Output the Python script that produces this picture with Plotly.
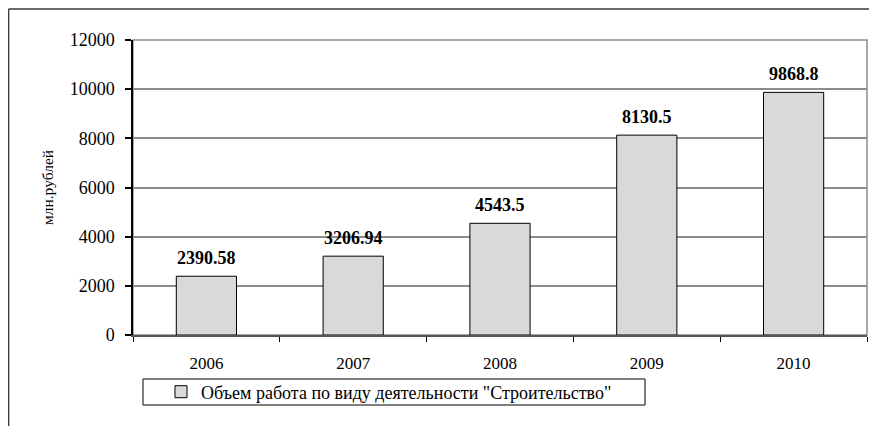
import plotly.graph_objects as go

years = ["2006", "2007", "2008", "2009", "2010"]
values = [2390.58, 3206.94, 4543.5, 8130.5, 9868.8]
value_labels = ["2390.58", "3206.94", "4543.5", "8130.5", "9868.8"]
series_name = 'Объем работа по виду деятельности "Строительство"'
y_title = "млн.рублей"
y_ticks = [0, 2000, 4000, 6000, 8000, 10000, 12000]

FONT = "Liberation Serif"
OFF = 8  # page body margin
WIN_W, WIN_H = 877, 426
W, H = WIN_W - OFF, WIN_H - OFF
# plot area in window pixels: x 133..867, y 40..335
L = 133 - OFF
T = 40 - OFF
R = W - (867 - OFF)
B = H - (335 - OFF)
pw, ph = 867 - 133, 335 - 40

def px(x):
    return (x - 133) / pw

def py(y):
    return (335 - y) / ph

fig = go.Figure()
fig.add_trace(go.Bar(
    x=years, y=values, name=series_name,
    marker=dict(color="#d9d9d9", line=dict(color="#000000", width=1)),
    width=0.41, showlegend=True,
))

for i, (v, lab) in enumerate(zip(values, value_labels)):
    fig.add_annotation(x=i, y=v, text="<b>%s</b>" % lab, showarrow=False,
                       yanchor="bottom", yshift=6,
                       font=dict(family=FONT, size=18, color="#000"))

shapes = [
    dict(type="rect", xref="paper", yref="paper", x0=0, x1=1, y0=0, y1=1,
         line=dict(color="#8c8c8c", width=1.5), layer="below"),
    # outer frame (top & left)
    dict(type="line", xref="paper", yref="paper", x0=px(8.6), x1=px(880), y0=py(9), y1=py(9),
         line=dict(color="#3a3a3a", width=1.5)),
    dict(type="line", xref="paper", yref="paper", x0=px(8.6), x1=px(8.6), y0=py(9), y1=py(430),
         line=dict(color="#3a3a3a", width=1.5)),
    # legend box
    dict(type="rect", xref="paper", yref="paper", x0=px(143), x1=px(645), y0=py(405), y1=py(379),
         line=dict(color="#000", width=1), fillcolor="white", layer="below"),
]

fig.update_layout(
    width=W, height=H,
    margin=dict(l=L, r=R, t=T, b=B, pad=0),
    paper_bgcolor="white", plot_bgcolor="white",
    font=dict(family=FONT, size=16, color="#000"),
    shapes=shapes,
    showlegend=True,
    legend=dict(x=px(161), y=py(373.5), xanchor="left", yanchor="top",
                borderwidth=0, bgcolor="rgba(0,0,0,0)",
                font=dict(family=FONT, size=18, color="#000"),
                itemwidth=30, tracegroupgap=0),
)

fig.update_xaxes(
    type="category", categoryorder="array", categoryarray=years,
    range=[-0.5, len(years) - 0.5], autorange=False,
    showgrid=False,
    showline=True, linecolor="#555555", linewidth=1.5,
    ticks="outside", tickson="boundaries", ticklen=5, tickcolor="#000", tickwidth=1,
    ticklabelstandoff=12,
    tickfont=dict(family=FONT, size=17, color="#000"),
)
fig.update_yaxes(
    range=[0, 12000], autorange=False, tickvals=y_ticks, ticktext=[str(t) for t in y_ticks],
    showgrid=True, gridcolor="#8c8c8c", gridwidth=1.5,
    zeroline=False,
    showline=True, linecolor="#000", linewidth=1.5,
    ticks="outside", ticklen=6, tickcolor="#000", tickwidth=1.5,
    ticklabelstandoff=7,
    tickfont=dict(family=FONT, size=18, color="#000"),
    title=dict(text=y_title, font=dict(family=FONT, size=15.5, color="#000"), standoff=12),
)

fig.write_html("out.html")
